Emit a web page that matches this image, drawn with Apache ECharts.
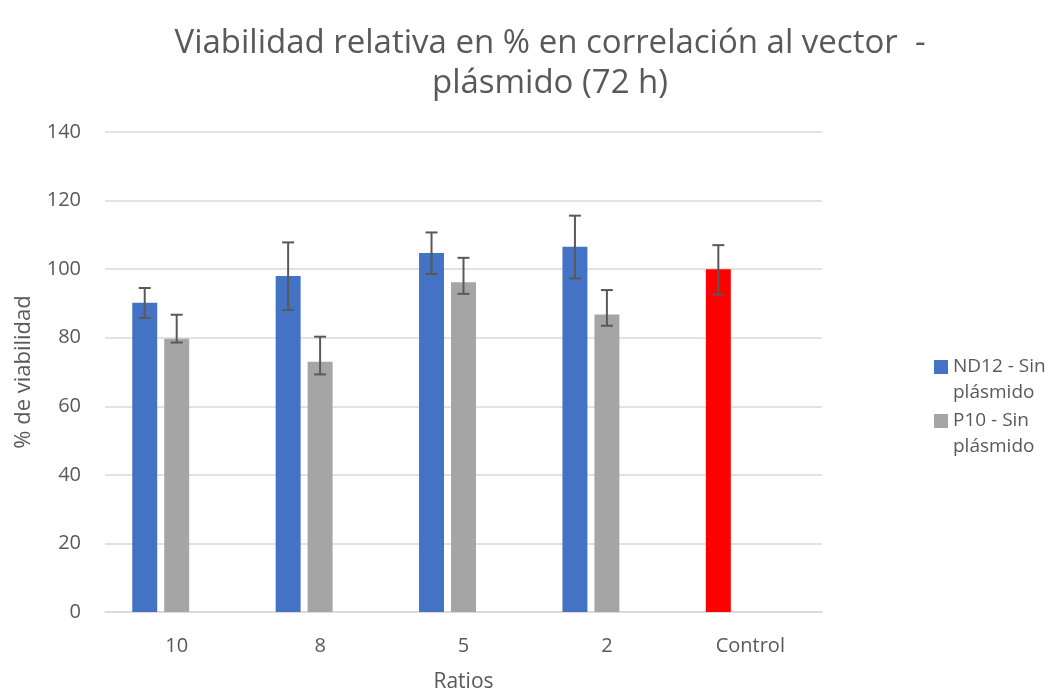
<!DOCTYPE html>
<html>
<head>
<meta charset="utf-8">
<script src="https://cdn.jsdelivr.net/npm/echarts@6/dist/echarts.min.js"></script>
<style>
  html, body { margin: 0; padding: 0; background: #fff; }
  #chart { width: 1051px; height: 691px; }
</style>
</head>
<body>
<div id="chart"></div>
<script>
const categories = ["10", "8", "5", "2", "Control"];
const yTicks = [0, 20, 40, 60, 80, 100, 120, 140];

// ND12 - Sin plásmido (el punto Control va en rojo)
const nd12 = [90.2, 98.0, 104.7, 106.5, 100.0];
const nd12Low = [85.8, 88.1, 98.6, 97.3, 92.6];
const nd12High = [94.5, 107.8, 110.7, 115.6, 107.0];

// P10 - Sin plásmido
const p10 = [79.7, 73.0, 96.2, 86.8, null];
const p10Low = [78.6, 69.3, 92.8, 83.5, null];
const p10High = [86.7, 80.3, 103.3, 93.9, null];

const FONT = "'Open Sans', 'Noto Sans', sans-serif";
const TXT = "#595959";
const GAP_CAT = 0.38; // barCategoryGap
const GAP_BAR = 0.28; // barGap
const N_SLOTS = 3;

// error bar with group offset (slot index 0..2)
function errorSeries(name, low, high, slot) {
  const data = low.map((v, i) => (v == null ? [i, null, null] : [i, v, high[i]]));
  return {
    name: name,
    type: "custom",
    z: 10,
    data: data,
    encode: { x: 0, y: [1, 2] },
    renderItem(params, api) {
      if (api.value(1) == null || isNaN(api.value(1))) return;
      const band = api.size([1, 0])[0];
      const bw = (band * (1 - GAP_CAT)) / (N_SLOTS + (N_SLOTS - 1) * GAP_BAR);
      const off = (slot - 1) * bw * (1 + GAP_BAR);
      const lo = api.coord([api.value(0), api.value(1)]);
      const hi = api.coord([api.value(0), api.value(2)]);
      const x = lo[0] + off;
      const cap = 6;
      const style = { stroke: "#595959", lineWidth: 2 };
      return {
        type: "group",
        children: [
          { type: "line", shape: { x1: x, y1: lo[1], x2: x, y2: hi[1] }, style },
          { type: "line", shape: { x1: x - cap, y1: hi[1], x2: x + cap, y2: hi[1] }, style },
          { type: "line", shape: { x1: x - cap, y1: lo[1], x2: x + cap, y2: lo[1] }, style },
        ],
      };
    },
  };
}

const chart = echarts.init(document.getElementById("chart"));
chart.setOption({
  animation: false,
  backgroundColor: "#fff",
  title: {
    text: "Viabilidad relativa en % en correlación al vector  -\nplásmido (72 h)",
    left: 545,
    textAlign: "center",
    top: 19,
    textStyle: {
      fontFamily: FONT,
      fontSize: 33,
      fontWeight: "normal",
      color: TXT,
      lineHeight: 40,
    },
  },
  legend: {
    data: ["ND12 - Sin plásmido", "P10 - Sin plásmido"],
    orient: "vertical",
    left: 929,
    top: 323,
    itemWidth: 14,
    itemHeight: 14,
    itemGap: -24,
    icon: "rect",
    // empty first line so the icon sits level with the first text line
    formatter: (n) => "\n" + n.replace(" plásmido", "\nplásmido"),
    textStyle: {
      fontFamily: FONT,
      fontSize: 19,
      color: TXT,
      lineHeight: 26,
    },
  },
  grid: { left: 105, right: 229, top: 132, bottom: 79, outerBoundsMode: "none" },
  xAxis: {
    type: "category",
    data: categories,
    name: "Ratios",
    nameLocation: "middle",
    nameGap: 60,
    nameTextStyle: { fontFamily: FONT, fontSize: 21, color: TXT },
    axisLine: { lineStyle: { color: "#d9d9d9", width: 1.5 } },
    axisTick: { show: false },
    axisLabel: { fontFamily: FONT, fontSize: 20, color: TXT, margin: 24 },
  },
  yAxis: {
    type: "value",
    min: yTicks[0],
    max: yTicks[yTicks.length - 1],
    interval: 20,
    name: "% de viabilidad",
    nameLocation: "middle",
    nameGap: 70,
    nameTextStyle: { fontFamily: FONT, fontSize: 22, color: TXT },
    axisLine: { show: false },
    axisTick: { show: false },
    axisLabel: { fontFamily: FONT, fontSize: 20, color: TXT, margin: 24 },
    splitLine: { lineStyle: { color: "#d9d9d9", width: 1.5 } },
  },
  series: [
    {
      name: "ND12 - Sin plásmido",
      type: "bar",
      barGap: GAP_BAR * 100 + "%",
      barCategoryGap: GAP_CAT * 100 + "%",
      itemStyle: { color: "#4472c4" },
      data: nd12.map((v, i) =>
        categories[i] === "Control" ? { value: v, itemStyle: { color: "#ff0000" } } : v
      ),
    },
    {
      name: "P10 - Sin plásmido",
      type: "bar",
      itemStyle: { color: "#a5a5a5" },
      data: p10,
    },
    {
      name: "Serie3",
      type: "bar",
      itemStyle: { color: "#ffc000" },
      data: categories.map(() => null),
    },
    errorSeries("ND12 error", nd12Low, nd12High, 0),
    errorSeries("P10 error", p10Low, p10High, 1),
  ],
});
</script>
</body>
</html>
